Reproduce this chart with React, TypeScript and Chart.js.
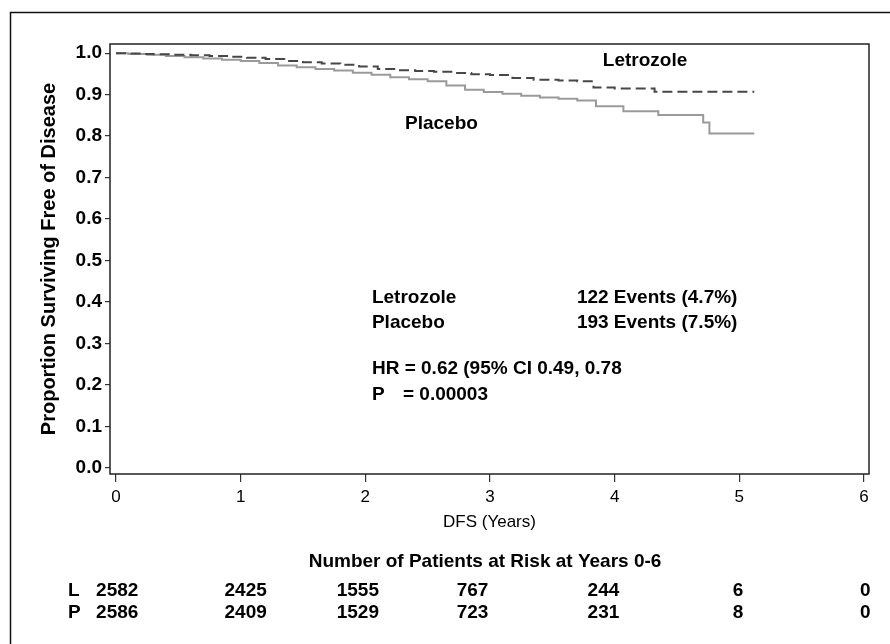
import React, { useEffect, useRef } from "react";
import { Chart, registerables } from "chart.js";

Chart.register(...registerables);

// ---- Data ----
const letrozoleTimes = [0, 0.1, 0.2, 0.3, 0.45, 0.6, 0.75, 0.9, 1.05, 1.2, 1.35, 1.5, 1.65, 1.8, 1.95, 2.1, 2.25, 2.4, 2.55, 2.7, 2.85, 3.0, 3.18, 3.35, 3.55, 3.7, 3.83, 4.0, 4.32, 5.12];
const letrozoleSurv = [1.0, 0.999, 0.998, 0.997, 0.996, 0.995, 0.993, 0.991, 0.989, 0.986, 0.981, 0.978, 0.975, 0.972, 0.968, 0.962, 0.959, 0.957, 0.955, 0.952, 0.949, 0.947, 0.94, 0.936, 0.934, 0.932, 0.917, 0.915, 0.907, 0.907];

const placeboTimes = [0, 0.1, 0.25, 0.4, 0.55, 0.7, 0.85, 1.0, 1.15, 1.3, 1.45, 1.6, 1.75, 1.9, 2.05, 2.2, 2.35, 2.5, 2.65, 2.8, 2.95, 3.1, 3.25, 3.4, 3.55, 3.7, 3.85, 4.07, 4.35, 4.71, 4.76, 5.12];
const placeboSurv = [1.0, 0.998, 0.996, 0.993, 0.99, 0.987, 0.984, 0.981, 0.976, 0.97, 0.966, 0.962, 0.958, 0.953, 0.948, 0.942, 0.937, 0.932, 0.922, 0.912, 0.906, 0.902, 0.897, 0.893, 0.89, 0.886, 0.872, 0.86, 0.851, 0.833, 0.806, 0.806];

const xTicks = [0, 1, 2, 3, 4, 5, 6];
const yTicks = [0, 0.1, 0.2, 0.3, 0.4, 0.5, 0.6, 0.7, 0.8, 0.9, 1.0];

const riskTitle = "Number of Patients at Risk at Years 0-6";
const riskGroups = ["L", "P"];
const riskLetrozole = [2582, 2425, 1555, 767, 244, 6, 0];
const riskPlacebo = [2586, 2409, 1529, 723, 231, 8, 0];

const statsNames = ["Letrozole", "Placebo"];
const statsEvents = ["122 Events (4.7%)", "193 Events (7.5%)"];
const hrText = "HR = 0.62 (95% CI 0.49, 0.78";
const pLabel = "P";
const pValueText = "= 0.00003";

// layout (column centres of the risk table, in axis years)
const riskColumnX = [0.01, 1.04, 1.94, 2.86, 3.91, 4.99, 6.01];

const FONT = '"Liberation Sans", Arial, Helvetica, sans-serif';

const decorations = {
  id: "decorations",
  afterDraw(chart: any) {
    const ctx = chart.ctx as CanvasRenderingContext2D;
    const { left, top, right, bottom } = chart.chartArea;
    const xs = chart.scales.x;
    const ys = chart.scales.y;
    ctx.save();
    // outer frame
    ctx.strokeStyle = "#111";
    ctx.lineWidth = 1.5;
    ctx.beginPath();
    ctx.moveTo(10.5, 644);
    ctx.lineTo(10.5, 12.5);
    ctx.lineTo(890, 12.5);
    ctx.stroke();
    // plot box
    ctx.strokeStyle = "#222";
    ctx.lineWidth = 1.5;
    ctx.strokeRect(left, top, right - left, bottom - top);

    ctx.fillStyle = "#000";
    ctx.textBaseline = "middle";
    ctx.font = `bold 19px ${FONT}`;
    ctx.textAlign = "left";
    // curve labels
    ctx.fillText("Letrozole", xs.getPixelForValue(3.905), ys.getPixelForValue(0.981));
    ctx.fillText("Placebo", xs.getPixelForValue(2.318), ys.getPixelForValue(0.83));
    // stats block
    const sx1 = xs.getPixelForValue(2.053);
    const sx2 = xs.getPixelForValue(3.697);
    const rowsY = [0.4096, 0.349];
    statsNames.forEach((n, i) => {
      ctx.fillText(n, sx1, ys.getPixelForValue(rowsY[i]));
      ctx.fillText(statsEvents[i], sx2, ys.getPixelForValue(rowsY[i]));
    });
    ctx.fillText(hrText, sx1, ys.getPixelForValue(0.2386));
    ctx.fillText(pLabel, sx1, ys.getPixelForValue(0.176));
    ctx.fillText(pValueText, sx1 + 31, ys.getPixelForValue(0.176));

    // risk table
    ctx.textAlign = "center";
    ctx.fillText(riskTitle, xs.getPixelForValue(2.96), bottom + 88);
    const rowY = [bottom + 117, bottom + 139];
    [riskLetrozole, riskPlacebo].forEach((row, r) => {
      ctx.textAlign = "left";
      ctx.fillText(riskGroups[r], 68, rowY[r]);
      ctx.textAlign = "center";
      row.forEach((v, i) => {
        ctx.fillText(String(v), xs.getPixelForValue(riskColumnX[i]), rowY[r]);
      });
    });
    ctx.restore();
  },
};

export default function App() {
  const ref = useRef<HTMLCanvasElement | null>(null);
  useEffect(() => {
    document.body.style.margin = "0";
    if (!ref.current) return;
    const chart = new Chart(ref.current, {
      type: "line",
      data: {
        datasets: [
          {
            label: "Letrozole",
            data: letrozoleTimes.map((t, i) => ({ x: t, y: letrozoleSurv[i] })),
            stepped: true,
            borderColor: "#474747",
            borderWidth: 2,
            borderDash: [10, 5],
            pointRadius: 0,
            fill: false,
          },
          {
            label: "Placebo",
            data: placeboTimes.map((t, i) => ({ x: t, y: placeboSurv[i] })),
            stepped: true,
            borderColor: "#9a9a9a",
            borderWidth: 2,
            pointRadius: 0,
            fill: false,
          },
        ],
      },
      options: {
        responsive: false,
        animation: false,
        layout: { padding: { left: 10, top: 44, right: 21, bottom: 110 } },
        plugins: { legend: { display: false }, tooltip: { enabled: false } },
        scales: {
          x: {
            type: "linear",
            min: -0.048,
            max: 6.04,
            afterBuildTicks: (s: any) => {
              s.ticks = xTicks.map((v) => ({ value: v }));
            },
            afterFit: (s: any) => {
              s.height = 60;
            },
            ticks: {
              callback: (v: any) => String(v),
              font: { family: FONT, size: 17 },
              color: "#000",
              padding: 5,
              maxRotation: 0,
              autoSkip: false,
            },
            grid: { drawOnChartArea: false, drawTicks: true, tickLength: 8, color: "#333", lineWidth: 1.2 },
            border: { display: false },
            title: {
              display: true,
              text: "DFS (Years)",
              font: { family: FONT, size: 17 },
              color: "#000",
              padding: { top: 0, bottom: 1 },
            },
          },
          y: {
            type: "linear",
            min: -0.0145,
            max: 1.022,
            afterBuildTicks: (s: any) => {
              s.ticks = yTicks.map((v) => ({ value: v }));
            },
            afterFit: (s: any) => {
              s.width = 100;
            },
            ticks: {
              callback: (v: any) => Number(v).toFixed(1),
              font: { family: FONT, size: 19, weight: "bold" },
              color: "#000",
              padding: 3,
              autoSkip: false,
            },
            grid: { drawOnChartArea: false, drawTicks: true, tickLength: 5, color: "#333", lineWidth: 1.2 },
            border: { display: false },
            title: {
              display: true,
              text: "Proportion Surviving Free of Disease",
              font: { family: FONT, size: 20, weight: "bold" },
              color: "#000",
              padding: { top: 27, bottom: 0 },
            },
          },
        },
      },
      plugins: [decorations],
    });
    return () => chart.destroy();
  }, []);
  return <canvas ref={ref} width={890} height={644} style={{ display: "block", width: 890, height: 644 }} />;
}
